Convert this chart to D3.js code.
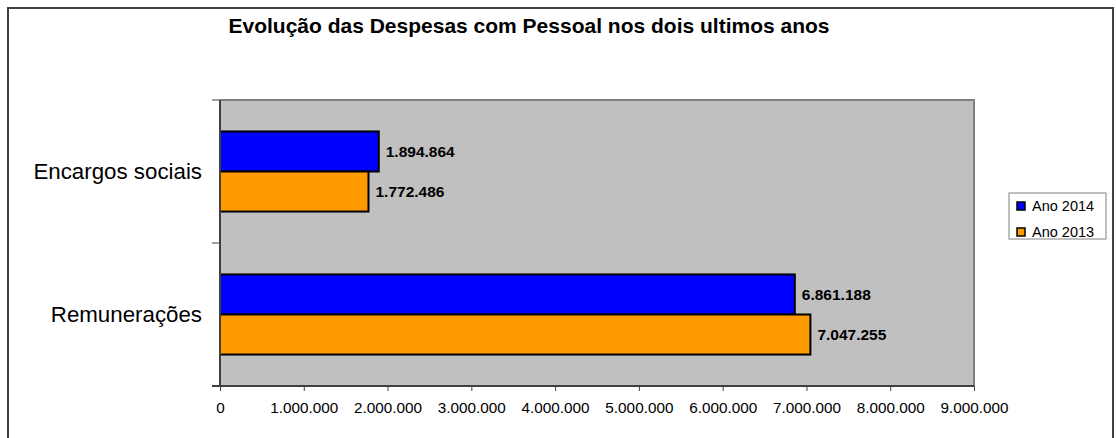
<!DOCTYPE html>
<html>
<head>
<meta charset="utf-8">
<script src="https://cdn.jsdelivr.net/npm/d3@7"></script>
<style>
  body { margin: 0; background: #fff; }
  svg { display: block; font-family: "Liberation Sans", Arial, sans-serif; }
</style>
</head>
<body>
<div id="wrapper"></div>
<script>
// data
const categories = ["Encargos sociais", "Remunerações"];
const seriesNames = ["Ano 2014", "Ano 2013"];
const values2014 = [1894864, 6861188];
const values2013 = [1772486, 7047255];
const xTicks = [0, 1000000, 2000000, 3000000, 4000000, 5000000, 6000000, 7000000, 8000000, 9000000];
const colors = ["#0000FF", "#FF9900"];

const fmt = v => d3.format(",")(v).replace(/,/g, ".");

const dimension = {
    width: 1116,
    height: 438,
    margin: { top: 100, left: 220, bottom: 52, right: 142 }
};
dimension.boundedWidth = 974 - dimension.margin.left;
dimension.boundedHeight = 386 - dimension.margin.top;

const wrapper = d3.select("#wrapper")
    .append("svg")
    .attr("width", dimension.width)
    .attr("height", dimension.height);

// outer frame
wrapper.append("rect")
    .attr("x", 8)
    .attr("y", 8)
    .attr("width", 1105)
    .attr("height", 440)
    .attr("fill", "none")
    .attr("stroke", "#404040")
    .attr("stroke-width", 2);

wrapper.append("text")
    .attr("x", 529)
    .attr("y", 33)
    .attr("text-anchor", "middle")
    .attr("font-size", "21px")
    .attr("font-weight", "bold")
    .text("Evolução das Despesas com Pessoal nos dois ultimos anos");

const bounds = wrapper.append("g")
    .attr("transform", `translate(${dimension.margin.left},${dimension.margin.top})`);

const xScaler = d3.scaleLinear()
    .domain([0, 9000000])
    .range([0, dimension.boundedWidth]);

const yScaler = d3.scaleBand()
    .domain(categories)
    .range([0, dimension.boundedHeight]);

const inner = d3.scaleBand()
    .domain(seriesNames)
    .range([0, yScaler.bandwidth() * 0.56])

// plot background
bounds.append("rect")
    .attr("width", dimension.boundedWidth)
    .attr("height", dimension.boundedHeight)
    .attr("fill", "#C0C0C0");
bounds.append("path")
    .attr("d", `M0,0H${dimension.boundedWidth}V${dimension.boundedHeight}`)
    .attr("fill", "none")
    .attr("stroke", "#808080")
    .attr("stroke-width", 2);

const rows = categories.map((c, i) => ({
    category: c,
    bars: [
        { series: seriesNames[0], value: values2014[i], color: colors[0] },
        { series: seriesNames[1], value: values2013[i], color: colors[1] }
    ]
}));

const groupOffset = (yScaler.bandwidth() - inner.range()[1]) / 2;

const catGroups = bounds.selectAll("g.cat")
    .data(rows)
    .enter()
    .append("g")
    .attr("class", "cat")
    .attr("transform", d => `translate(0,${yScaler(d.category) + groupOffset})`);

catGroups.selectAll("rect")
    .data(d => d.bars)
    .enter()
    .append("rect")
    .attr("x", 0)
    .attr("y", d => inner(d.series))
    .attr("width", d => xScaler(d.value))
    .attr("height", inner.bandwidth())
    .attr("fill", d => d.color)
    .attr("stroke", "#000")
    .attr("stroke-width", 2);

catGroups.selectAll("text")
    .data(d => d.bars)
    .enter()
    .append("text")
    .attr("x", d => xScaler(d.value) + 7)
    .attr("y", d => inner(d.series) + inner.bandwidth() / 2)
    .attr("dy", "0.35em")
    .attr("font-size", "15.5px")
    .attr("font-weight", "bold")
    .text(d => fmt(d.value));

// x axis
const xAxisGen = d3.axisBottom(xScaler)
    .tickValues(xTicks)
    .tickSize(5)
    .tickPadding(11)
    .tickFormat(fmt);
const xAxis = bounds.append("g")
    .attr("transform", `translate(0,${dimension.boundedHeight})`)
    .call(xAxisGen);
xAxis.select(".domain").attr("stroke", "#404040").attr("stroke-width", 2)
    .attr("d", `M-8,0H${dimension.boundedWidth}`);
xAxis.selectAll(".tick line").attr("stroke", "#404040");
xAxis.selectAll(".tick text")
    .attr("font-family", "Liberation Sans, Arial, sans-serif")
    .attr("font-size", "15.3px")
    .attr("fill", "#000");

// y axis
const yAxis = bounds.append("g");
yAxis.append("line")
    .attr("x1", 0).attr("x2", 0)
    .attr("y1", 0).attr("y2", dimension.boundedHeight)
    .attr("stroke", "#404040")
    .attr("stroke-width", 2);
yAxis.selectAll("line.tk")
    .data(categories.concat(["end"]))
    .enter()
    .append("line")
    .attr("class", "tk")
    .attr("x1", -8).attr("x2", 0)
    .attr("y1", (d, i) => i * yScaler.step())
    .attr("y2", (d, i) => i * yScaler.step())
    .attr("stroke", "#404040");
yAxis.selectAll("text")
    .data(categories)
    .enter()
    .append("text")
    .attr("x", -18)
    .attr("y", d => yScaler(d) + yScaler.bandwidth() / 2)
    .attr("dy", "0.35em")
    .attr("text-anchor", "end")
    .attr("font-size", "22.3px")
    .text(d => d);

// legend
const legend = wrapper.append("g").attr("transform", "translate(1009,193)");
legend.append("rect")
    .attr("width", 97)
    .attr("height", 46)
    .attr("fill", "#fff")
    .attr("stroke", "#808080");
const items = legend.selectAll("g")
    .data(seriesNames)
    .enter()
    .append("g")
    .attr("transform", (d, i) => `translate(8,${9 + i * 26})`);
items.append("rect")
    .attr("width", 8)
    .attr("height", 8)
    .attr("fill", (d, i) => colors[i])
    .attr("stroke", "#000")
    .attr("stroke-width", 1.5);
items.append("text")
    .attr("x", 15)
    .attr("y", 4)
    .attr("dy", "0.35em")
    .attr("font-size", "14.5px")
    .text(d => d);
</script>
</body>
</html>
